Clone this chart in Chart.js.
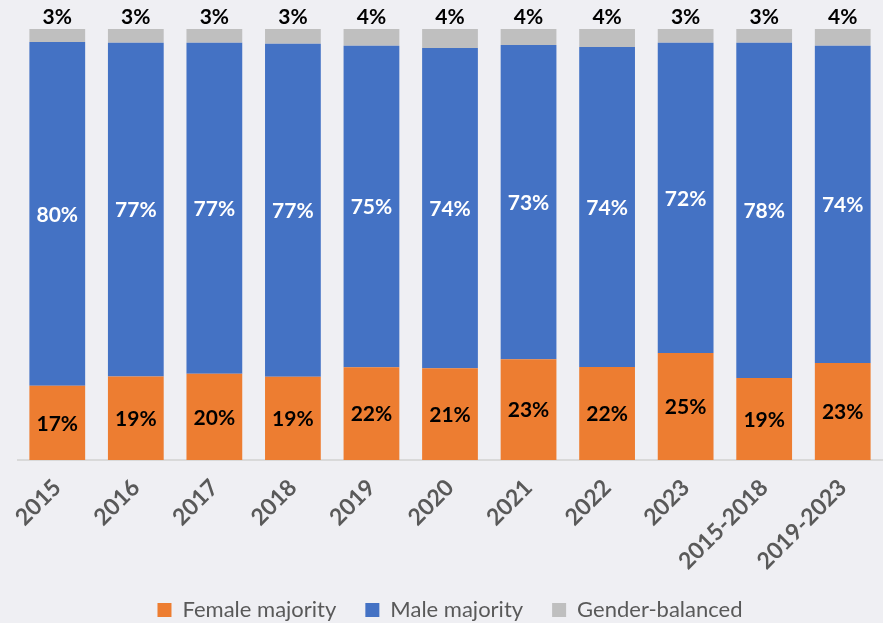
<!DOCTYPE html>
<html>
<head>
<meta charset="utf-8">
<script src="https://cdn.jsdelivr.net/npm/chart.js@4/dist/chart.umd.min.js"></script>
<style>
  html, body { margin: 0; padding: 0; background: #efeff3; }
  #wrap { width: 883px; height: 623px; }
</style>
</head>
<body>
<div id="wrap"><canvas id="chart" width="883" height="623"></canvas></div>
<script>
// categories and shares (%)
const categories = ['2015', '2016', '2017', '2018', '2019', '2020', '2021', '2022', '2023', '2015-2018', '2019-2023'];
const femaleMajority = [17.2, 19.4, 20.0, 19.3, 21.5, 21.3, 23.4, 21.6, 24.8, 19.0, 22.5];
const maleMajority   = [79.8, 77.4, 76.8, 77.3, 74.6, 74.3, 72.9, 74.2, 72.0, 77.8, 73.6];
const genderBalanced = [3.0, 3.2, 3.2, 3.4, 3.9, 4.4, 3.7, 4.2, 3.2, 3.2, 3.9];

const FONT = "Lato, 'Open Sans', sans-serif";

// draws the % labels (no datalabels plugin available offline)
const barLabels = {
  id: 'barLabels',
  afterDatasetsDraw(chart) {
    const ctx = chart.ctx;
    ctx.save();
    ctx.font = 'bold 21px ' + FONT;
    ctx.textAlign = 'center';
    ctx.textBaseline = 'middle';
    chart.data.datasets.forEach((ds, i) => {
      const meta = chart.getDatasetMeta(i);
      meta.data.forEach((bar, j) => {
        const txt = Math.round(ds.data[j]) + '%';
        if (i === 2) {
          ctx.fillStyle = '#000000';
          ctx.fillText(txt, bar.x, bar.y - 12);
        } else {
          ctx.fillStyle = i === 1 ? '#ffffff' : '#000000';
          ctx.fillText(txt, bar.x, (bar.y + bar.base) / 2 + 1);
        }
      });
    });
    ctx.restore();
  }
};

new Chart(document.getElementById('chart'), {
  type: 'bar',
  data: {
    labels: categories,
    datasets: [
      { label: 'Female majority', data: femaleMajority, backgroundColor: '#ed7d31' },
      { label: 'Male majority', data: maleMajority, backgroundColor: '#4472c4' },
      { label: 'Gender-balanced', data: genderBalanced, backgroundColor: '#bfbfbf' }
    ]
  },
  options: {
    responsive: false,
    animation: false,
    datasets: {
      bar: { categoryPercentage: 1, barPercentage: 0.71, borderWidth: 0 }
    },
    layout: { padding: { left: 18, right: 1, top: 29, bottom: -8 } },
    plugins: {
      legend: {
        position: 'bottom',
        labels: {
          boxWidth: 14,
          boxHeight: 14,
          padding: 29,
          color: '#595959',
          font: { family: FONT, size: 22 }
        }
      },
      tooltip: { enabled: false }
    },
    scales: {
      x: {
        stacked: true,
        grid: { display: false, drawTicks: false },
        border: { display: true, color: '#d9d9d9', width: 2 },
        afterFit(scale) { scale.height = 110; },
        ticks: {
          minRotation: 45,
          maxRotation: 45,
          padding: 14,
          color: '#595959',
          font: { family: FONT, size: 23, weight: 'bold' }
        }
      },
      y: {
        stacked: true,
        display: false,
        min: 0,
        max: 100
      }
    }
  },
  plugins: [barLabels]
});
</script>
</body>
</html>
